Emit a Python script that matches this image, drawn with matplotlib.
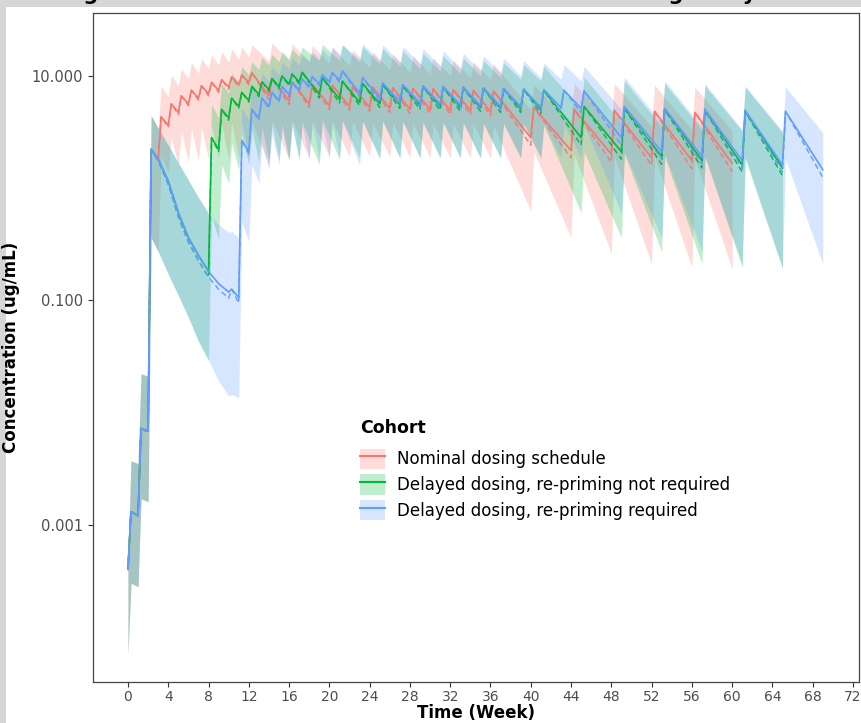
import matplotlib
matplotlib.use("Agg")
import matplotlib.pyplot as plt
from matplotlib.patches import Patch, Rectangle
from matplotlib.lines import Line2D

# concentrations in ug/mL
# pre = value just before each dose (last entry = value at end of profile)
# post = peak just after each dose

# all cohorts share the first three doses (weeks 0, 1, 2)
start_doses = [0, 1, 2]
start_med_pre = [0.0004, 0.0012, 0.0068]
start_med_post = [0.0013, 0.0072, 2.2]
start_dash_pre = [0.0004, 0.0012, 0.0066]
start_lo_pre = [0.00007, 0.00028, 0.0016]
start_lo_post = [0.0003, 0.0017, 0.36]
start_hi_pre = [0.0005, 0.0035, 0.021]
start_hi_post = [0.0037, 0.022, 4.4]

# off-treatment decay after week 2 (delayed cohorts)
gap_weeks = [3, 4, 5, 6, 7, 8, 9]
gap_med = [1.8, 1.15, 0.6, 0.36, 0.25, 0.18, 0.14]
gap_dash = [1.75, 1.08, 0.55, 0.33, 0.225, 0.16, 0.125]
gap_lo = [0.27, 0.17, 0.11, 0.07, 0.043, 0.029, 0.019]
gap_hi = [3.4, 2.4, 1.67, 1.17, 0.82, 0.59, 0.47]

# Nominal dosing schedule
red_doses = [3, 4, 5, 6, 7, 8, 9, 10, 11, 12,
             14, 16, 18, 20, 22, 24, 26, 28, 30, 32, 34, 36,
             40, 44, 48, 52, 56]
red_end = 60
red_med_pre = [1.8, 3.6, 4.7, 5.6, 6.3, 6.9, 7.4, 7.9, 8.3, 8.7,
               6.6, 6.0, 5.6, 5.4, 5.3, 5.2, 5.1, 5.0, 5.0, 4.9, 4.9, 4.8,
               2.8, 2.15, 2.0, 1.85, 1.75, 1.65]
red_med_post = [4.3, 5.6, 6.6, 7.4, 8.1, 8.7, 9.2, 9.7, 10.1, 10.6,
                9.4, 8.8, 8.4, 8.2, 8.0, 7.9, 7.8, 7.7, 7.6, 7.5, 7.4, 7.3,
                5.2, 5.0, 4.9, 4.8, 4.7]
red_dash_pre = [1.75, 3.45, 4.5, 5.4, 6.05, 6.6, 7.1, 7.55, 7.95, 8.3,
                6.1, 5.5, 5.2, 5.0, 4.9, 4.8, 4.7, 4.6, 4.6, 4.5, 4.5, 4.4,
                2.4, 1.85, 1.7, 1.58, 1.48, 1.4]
red_hi_pre = [3.4, 6.5, 8.2, 9.4, 10.5, 11.5, 12.4, 13.2, 14.0, 14.6,
              13.5, 13.6, 13.3, 12.8, 12.3, 11.8, 11.3, 10.8, 10.4, 10.0, 9.6, 9.3,
              5.0, 3.9, 3.7, 3.5, 3.3, 3.2]
red_hi_post = [8.0, 10.0, 11.5, 13.0, 14.2, 15.3, 16.3, 17.2, 18.0, 18.8,
               19.5, 19.2, 18.5, 17.8, 17.0, 16.3, 15.6, 15.0, 14.4, 13.8, 13.3, 12.8,
               8.2, 8.5, 8.5, 8.2, 7.9]
red_lo_pre = [0.27, 1.35, 1.6, 1.7, 1.75, 1.78, 1.8, 1.8, 1.82, 1.84,
              1.6, 1.8, 1.85, 1.9, 1.9, 1.9, 1.9, 1.88, 1.86, 1.85, 1.85, 1.85,
              0.62, 0.36, 0.26, 0.21, 0.195, 0.19]
red_lo_post = [1.9, 2.8, 3.2, 3.4, 3.5, 3.6, 3.7, 3.8, 3.8, 3.9,
               4.0, 4.0, 3.9, 3.9, 3.9, 3.8, 3.8, 3.8, 3.7, 3.7, 3.7, 3.6,
               2.1, 2.0, 1.9, 1.9, 1.8]

# Delayed dosing, re-priming not required
green_doses = [8, 9, 10, 11, 12, 13, 14, 15, 16, 17,
               19, 21, 23, 25, 27, 29, 31, 33, 35, 37, 39, 41,
               45, 49, 53, 57, 61]
green_end = 65
green_med_pre = [0.18, 2.2, 4.2, 5.3, 6.0, 6.8, 7.5, 8.0, 8.4, 8.8,
                 6.8, 6.2, 5.8, 5.6, 5.5, 5.4, 5.3, 5.2, 5.2, 5.1, 5.1, 5.0,
                 2.8, 2.1, 1.9, 1.75, 1.6, 1.5]
green_med_post = [2.8, 5.0, 6.3, 7.1, 8.0, 8.8, 9.4, 9.9, 10.3, 10.7,
                  9.6, 8.9, 8.5, 8.3, 8.1, 8.0, 7.9, 7.8, 7.7, 7.6, 7.5, 7.4,
                  5.3, 5.1, 5.0, 4.9, 4.8]
green_dash_pre = [0.16, 2.1, 4.0, 5.1, 5.8, 6.5, 7.2, 7.7, 8.1, 8.4,
                  6.3, 5.7, 5.4, 5.2, 5.1, 5.0, 4.9, 4.8, 4.8, 4.7, 4.7, 4.6,
                  2.4, 1.8, 1.62, 1.5, 1.38, 1.28]
green_hi_pre = [0.59, 4.2, 7.0, 8.8, 10.2, 11.3, 12.4, 13.3, 14.1, 14.8,
                13.6, 13.6, 13.2, 12.7, 12.1, 11.5, 11.0, 10.5, 10.0, 9.6, 9.3, 9.0,
                5.0, 3.8, 3.5, 3.3, 3.2, 3.1]
green_hi_post = [5.5, 8.5, 10.5, 12.0, 13.3, 14.5, 15.5, 16.4, 17.2, 18.0,
                 19.0, 18.8, 18.2, 17.4, 16.6, 15.8, 15.0, 14.3, 13.6, 13.0, 12.5, 12.1,
                 9.7, 9.0, 8.5, 8.1, 7.9]
green_lo_pre = [0.029, 0.35, 1.1, 1.45, 1.6, 1.7, 1.75, 1.78, 1.8, 1.82,
                1.6, 1.8, 1.85, 1.85, 1.85, 1.85, 1.85, 1.85, 1.85, 1.85, 1.85, 1.85,
                0.6, 0.36, 0.27, 0.21, 0.195, 0.19]
green_lo_post = [0.55, 1.6, 2.5, 3.0, 3.3, 3.5, 3.6, 3.7, 3.8, 3.85,
                 4.0, 4.0, 3.9, 3.9, 3.9, 3.8, 3.8, 3.8, 3.7, 3.7, 3.7, 3.6,
                 2.1, 2.0, 1.9, 1.9, 1.8]

# Delayed dosing, re-priming required
blue_doses = [10, 11, 12, 13, 14, 15, 16, 17, 18, 19, 20, 21,
              23, 25, 27, 29, 31, 33, 35, 37, 39, 41, 43, 45,
              49, 53, 57, 61, 65]
blue_end = 69
blue_med_pre = [0.118, 0.105, 2.1, 4.2, 5.3, 6.0, 6.8, 7.5, 8.0, 8.4, 8.8, 9.1,
                7.0, 6.3, 5.9, 5.7, 5.6, 5.5, 5.4, 5.3, 5.3, 5.2, 5.2, 5.1,
                2.8, 2.1, 1.9, 1.75, 1.6, 1.45]
blue_med_post = [0.125, 2.65, 5.0, 6.3, 7.1, 8.0, 8.7, 9.3, 9.8, 10.2, 10.6, 11.0,
                 9.6, 8.6, 8.3, 8.1, 8.0, 7.9, 7.8, 7.7, 7.6, 7.5, 7.4, 7.3,
                 5.3, 5.1, 5.0, 4.9, 4.8]
blue_dash_pre = [0.104, 0.094, 2.0, 4.0, 5.1, 5.8, 6.5, 7.2, 7.7, 8.1, 8.4, 8.7,
                 6.5, 5.8, 5.5, 5.3, 5.2, 5.1, 5.0, 4.9, 4.9, 4.8, 4.8, 4.7,
                 2.4, 1.8, 1.62, 1.5, 1.38, 1.24]
blue_hi_pre = [0.40, 0.36, 4.0, 7.0, 8.8, 10.2, 11.3, 12.4, 13.3, 14.1, 14.8, 15.4,
               14.0, 13.6, 13.2, 12.7, 12.1, 11.5, 11.0, 10.5, 10.0, 9.6, 9.3, 9.0,
               5.0, 3.8, 3.5, 3.3, 3.2, 3.1]
blue_hi_post = [0.41, 5.2, 8.5, 10.5, 12.0, 13.3, 14.5, 15.5, 16.4, 17.2, 18.0, 18.8,
                19.2, 18.8, 18.2, 17.4, 16.6, 15.8, 15.0, 14.3, 13.6, 13.0, 12.5, 12.1,
                9.7, 9.0, 8.5, 8.1, 7.9]
blue_lo_pre = [0.014, 0.0135, 0.33, 1.1, 1.45, 1.6, 1.7, 1.75, 1.78, 1.8, 1.82, 1.84,
               1.6, 1.8, 1.85, 1.85, 1.85, 1.85, 1.85, 1.85, 1.85, 1.85, 1.85, 1.85,
               0.6, 0.36, 0.27, 0.21, 0.195, 0.21]
blue_lo_post = [0.0145, 0.5, 1.6, 2.5, 3.0, 3.3, 3.5, 3.6, 3.7, 3.8, 3.85, 3.9,
                4.0, 4.0, 3.9, 3.9, 3.9, 3.8, 3.8, 3.8, 3.7, 3.7, 3.7, 3.6,
                2.1, 2.0, 1.9, 1.9, 1.8]

labels = ["Nominal dosing schedule",
          "Delayed dosing, re-priming not required",
          "Delayed dosing, re-priming required"]
colors = ["#F8766D", "#00BA38", "#619CFF"]

LAG = 0.3  # peak comes ~2 days after a dose


def profile(doses, pre, post, end, extra_t=(), extra_v=()):
    pts = []
    for t, a, b in zip(doses, pre, post):
        pts.append((t, a))
        pts.append((t + LAG, b))
    pts.append((end, pre[-1]))
    pts += list(zip(extra_t, extra_v))
    pts.sort()
    return [p[0] for p in pts], [p[1] for p in pts]


def cohort(doses, end, med_pre, med_post, dash_pre, lo_pre, lo_post, hi_pre, hi_post, n_gap):
    d = start_doses + doses
    gt = gap_weeks[:n_gap]
    x, med = profile(d, start_med_pre + med_pre, start_med_post + med_post, end, gt, gap_med[:n_gap])
    _, dash = profile(d, start_dash_pre + dash_pre, start_med_post + med_post, end, gt, gap_dash[:n_gap])
    _, lo = profile(d, start_lo_pre + lo_pre, start_lo_post + lo_post, end, gt, gap_lo[:n_gap])
    _, hi = profile(d, start_hi_pre + hi_pre, start_hi_post + hi_post, end, gt, gap_hi[:n_gap])
    return x, med, dash, lo, hi


cohorts = [
    cohort(red_doses, red_end, red_med_pre, red_med_post, red_dash_pre,
           red_lo_pre, red_lo_post, red_hi_pre, red_hi_post, 0),
    cohort(green_doses, green_end, green_med_pre, green_med_post, green_dash_pre,
           green_lo_pre, green_lo_post, green_hi_pre, green_hi_post, 5),
    cohort(blue_doses, blue_end, blue_med_pre, blue_med_post, blue_dash_pre,
           blue_lo_pre, blue_lo_post, blue_hi_pre, blue_hi_post, 7),
]

fig = plt.figure(figsize=(8.61, 7.23), dpi=100, facecolor="#d6d6d6")
fig.patches.append(Rectangle((6 / 861, 0), 1, 1 - 7 / 723, transform=fig.transFigure,
                             fc="white", ec="none", zorder=-5))
# title of the original page, mostly cut off by the screenshot
fig.text(62 / 861, 1 + 0.5 / 723,
         "Figure 3. Simulated Serum Concentrations Following Delayed Dosing (",
         fontsize=15, fontweight="bold", va="baseline", ha="left")

ax = fig.add_axes([0.1077, 0.0571, 0.89, 0.9253])

alpha = 0.25
for (x, med, dash, lo, hi), c in zip(cohorts, colors):
    ax.fill_between(x, lo, hi, color=c, alpha=alpha, lw=0)
for (x, med, dash, lo, hi), c in zip(cohorts, colors):
    ax.plot(x, med, color=c, lw=1.2)
    ax.plot(x, dash, color=c, lw=1.0, ls=(0, (4, 2.5)))

ax.set_yscale("log")
ax.set_ylim(10 ** -4.40, 10 ** 1.56)
ax.set_xlim(-3.5, 72.6)
ax.set_yticks([10, 0.1, 0.001])
ax.set_yticklabels(["10.000", "0.100", "0.001"])
ax.yaxis.set_minor_locator(matplotlib.ticker.NullLocator())
ax.set_xticks(range(0, 73, 4))

ax.tick_params(axis="y", labelsize=10.5, labelcolor="#4d4d4d", color="#333333",
               length=3.5, width=0.8)
ax.tick_params(axis="x", labelsize=10, labelcolor="#4d4d4d", color="#333333",
               length=3.5, width=0.8, pad=2.5)
for s in ax.spines.values():
    s.set_color("#444444")
    s.set_linewidth(0.9)

ax.set_xlabel("Time (Week)", fontsize=12, fontweight="bold", labelpad=0)
ax.set_ylabel("Concentration (ug/mL)", fontsize=12, fontweight="bold", labelpad=8)

handles = [(Patch(fc=c, alpha=alpha, ec="none"), Line2D([], [], color=c, lw=1.5))
           for c in colors]
leg = ax.legend(handles, labels, title="Cohort", loc="upper left",
                bbox_to_anchor=(0.349, 0.392), frameon=False, fontsize=12,
                title_fontproperties={"weight": "bold", "size": 12.5},
                handlelength=1.5, handleheight=1.5, handletextpad=0.7,
                labelspacing=0.32, borderpad=0, borderaxespad=0, alignment="left")
leg._legend_box.sep = 8

fig.savefig("out.png", dpi=100, facecolor=fig.get_facecolor())
